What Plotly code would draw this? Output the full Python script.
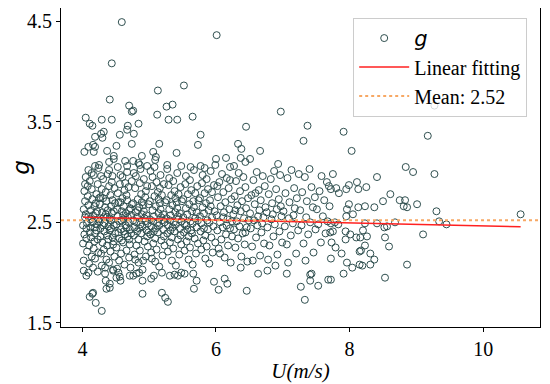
import plotly.graph_objects as go

# ---- data: (U [m/s], g) pairs, grouped by wind-speed band ----
obs_u40_425 = [
    (4.01, 2.47), (4.02, 2.63), (4.01, 2.29), (4.03, 2.81), (4.02, 2.12), (4.04, 2.55), (4.03, 2.38), (4.05, 2.95),
    (4.04, 2.71), (4.02, 2.02), (4.06, 2.44), (4.07, 2.21), (4.05, 2.58), (4.08, 2.86), (4.06, 2.34), (4.09, 2.67),
    (4.07, 2.49), (4.10, 2.09), (4.08, 2.76), (4.11, 2.40), (4.09, 3.02), (4.12, 2.53), (4.10, 2.27), (4.13, 2.62),
    (4.11, 2.91), (4.14, 2.16), (4.12, 2.45), (4.15, 2.73), (4.13, 2.35), (4.16, 2.57), (4.14, 2.83), (4.17, 2.24),
    (4.15, 2.50), (4.18, 2.66), (4.16, 2.05), (4.19, 2.39), (4.17, 2.97), (4.20, 2.59), (4.18, 2.31), (4.21, 2.78),
    (4.19, 2.14), (4.22, 2.48), (4.20, 2.69), (4.23, 2.88), (4.21, 2.42), (4.24, 2.20), (4.22, 2.61), (4.24, 2.53),
    (4.23, 2.33), (4.25, 2.74), (4.04, 2.88), (4.09, 2.56), (4.14, 2.99), (4.19, 2.45), (4.24, 3.04),
]
obs_u425_45 = [
    (4.26, 2.51), (4.27, 2.36), (4.26, 2.68), (4.28, 2.19), (4.29, 2.83), (4.27, 2.44), (4.30, 2.60), (4.29, 2.07),
    (4.31, 2.74), (4.30, 2.30), (4.32, 2.55), (4.31, 2.93), (4.33, 2.41), (4.34, 2.65), (4.32, 2.23), (4.35, 2.80),
    (4.33, 2.49), (4.36, 2.13), (4.35, 2.58), (4.37, 2.37), (4.36, 2.71), (4.38, 2.98), (4.37, 2.27), (4.39, 2.46),
    (4.38, 2.62), (4.40, 2.86), (4.39, 2.33), (4.41, 2.54), (4.40, 2.10), (4.42, 2.77), (4.41, 2.42), (4.43, 2.66),
    (4.42, 2.21), (4.44, 2.90), (4.43, 2.52), (4.45, 2.35), (4.44, 2.59), (4.46, 2.03), (4.45, 2.72), (4.47, 2.47),
    (4.46, 2.28), (4.48, 2.84), (4.47, 2.61), (4.49, 2.39), (4.48, 2.16), (4.49, 2.69), (4.28, 2.96), (4.34, 2.05),
    (4.40, 3.02), (4.45, 2.96), (4.31, 2.47), (4.37, 2.55), (4.43, 2.44), (4.27, 2.75), (4.47, 2.31),
]
obs_u45_475 = [
    (4.51, 2.48), (4.52, 2.63), (4.51, 2.25), (4.53, 2.79), (4.54, 2.40), (4.53, 2.56), (4.55, 2.12), (4.56, 2.88),
    (4.55, 2.34), (4.57, 2.70), (4.56, 2.51), (4.58, 2.19), (4.59, 2.61), (4.58, 2.43), (4.60, 2.95), (4.61, 2.30),
    (4.60, 2.74), (4.62, 2.53), (4.63, 2.08), (4.62, 2.66), (4.64, 2.38), (4.63, 2.82), (4.65, 2.47), (4.66, 2.22),
    (4.65, 2.59), (4.67, 3.00), (4.68, 2.36), (4.67, 2.72), (4.69, 2.50), (4.70, 2.15), (4.69, 2.85), (4.71, 2.43),
    (4.72, 2.64), (4.71, 2.28), (4.73, 2.57), (4.74, 2.91), (4.73, 2.39), (4.74, 2.68), (4.52, 2.04), (4.57, 2.97),
    (4.61, 2.57), (4.66, 2.45), (4.70, 2.62), (4.54, 2.70), (4.59, 2.32), (4.64, 2.89), (4.68, 2.55), (4.72, 2.05),
    (4.58, 2.52), (4.62, 2.41), (4.66, 2.77), (4.70, 2.33),
]
obs_u475_50 = [
    (4.76, 2.52), (4.77, 2.37), (4.76, 2.69), (4.78, 2.18), (4.79, 2.84), (4.78, 2.45), (4.80, 2.60), (4.81, 2.27),
    (4.80, 2.96), (4.82, 2.41), (4.83, 2.73), (4.82, 2.55), (4.84, 2.10), (4.85, 2.65), (4.84, 2.33), (4.86, 2.89),
    (4.87, 2.48), (4.86, 2.22), (4.88, 2.78), (4.89, 2.58), (4.88, 2.39), (4.90, 2.03), (4.91, 2.67), (4.90, 2.46),
    (4.92, 2.93), (4.93, 2.31), (4.92, 2.61), (4.94, 2.51), (4.95, 2.16), (4.94, 2.75), (4.96, 2.42), (4.97, 2.86),
    (4.96, 2.57), (4.98, 2.26), (4.99, 2.68), (4.98, 2.49), (4.77, 2.99), (4.81, 2.50), (4.85, 2.44), (4.89, 2.70),
    (4.93, 2.54), (4.97, 2.36), (4.79, 2.13), (4.83, 2.62), (4.87, 3.03), (4.91, 2.12), (4.95, 2.81), (4.99, 2.40),
]
obs_u50_55 = [
    (5.01, 2.53), (5.02, 2.38), (5.01, 2.71), (5.03, 2.20), (5.04, 2.86), (5.03, 2.46), (5.05, 2.62), (5.06, 2.29),
    (5.05, 2.95), (5.07, 2.41), (5.08, 2.76), (5.07, 2.56), (5.09, 2.11), (5.10, 2.66), (5.09, 2.34), (5.11, 2.90),
    (5.12, 2.49), (5.11, 2.23), (5.13, 2.80), (5.14, 2.59), (5.13, 2.40), (5.15, 2.06), (5.16, 2.69), (5.15, 2.47),
    (5.17, 2.97), (5.18, 2.32), (5.17, 2.63), (5.19, 2.52), (5.20, 2.17), (5.19, 2.77), (5.21, 2.43), (5.22, 2.88),
    (5.21, 2.58), (5.23, 2.27), (5.24, 2.70), (5.23, 2.50), (5.02, 3.01), (5.06, 2.51), (5.10, 2.44), (5.14, 2.73),
    (5.18, 2.55), (5.22, 2.36), (5.04, 2.14), (5.16, 2.84),
    (5.26, 2.54), (5.27, 2.39), (5.26, 2.72), (5.28, 2.21), (5.29, 2.87), (5.28, 2.47), (5.30, 2.63), (5.31, 2.30),
    (5.30, 2.94), (5.32, 2.42), (5.33, 2.77), (5.32, 2.57), (5.34, 2.12), (5.35, 2.67), (5.34, 2.35), (5.36, 2.91),
    (5.37, 2.50), (5.36, 2.24), (5.38, 2.81), (5.39, 2.60), (5.38, 2.41), (5.40, 2.07), (5.41, 2.70), (5.40, 2.48),
    (5.42, 2.99), (5.43, 2.33), (5.42, 2.64), (5.44, 2.53), (5.45, 2.18), (5.44, 2.78), (5.46, 2.44), (5.47, 2.85),
    (5.46, 2.59), (5.48, 2.28), (5.49, 2.71), (5.48, 2.51), (5.27, 3.03), (5.31, 2.52), (5.35, 2.45), (5.39, 2.74),
    (5.43, 2.56), (5.47, 2.37),
]
obs_u55_60 = [
    (5.51, 2.55), (5.52, 2.40), (5.51, 2.73), (5.53, 2.22), (5.54, 2.88), (5.53, 2.48), (5.55, 2.64), (5.56, 2.31),
    (5.55, 2.96), (5.57, 2.43), (5.58, 2.78), (5.57, 2.58), (5.59, 2.13), (5.60, 2.68), (5.59, 2.36), (5.61, 2.92),
    (5.62, 2.51), (5.61, 2.25), (5.63, 2.82), (5.64, 2.61), (5.63, 2.42), (5.65, 2.08), (5.66, 2.71), (5.65, 2.49),
    (5.67, 3.02), (5.68, 2.34), (5.67, 2.65), (5.69, 2.54), (5.70, 2.19), (5.69, 2.79), (5.71, 2.45), (5.72, 2.86),
    (5.71, 2.60), (5.73, 2.29), (5.74, 2.72), (5.73, 2.52), (5.56, 2.47), (5.64, 2.39),
    (5.76, 2.56), (5.77, 2.41), (5.76, 2.74), (5.78, 2.23), (5.79, 2.89), (5.78, 2.49), (5.80, 2.65), (5.81, 2.32),
    (5.80, 2.97), (5.82, 2.44), (5.83, 2.79), (5.82, 2.59), (5.84, 2.14), (5.85, 2.69), (5.84, 2.37), (5.86, 2.93),
    (5.87, 2.52), (5.86, 2.26), (5.88, 2.83), (5.89, 2.62), (5.88, 2.43), (5.90, 2.09), (5.91, 2.72), (5.90, 2.50),
    (5.92, 3.01), (5.93, 2.35), (5.92, 2.66), (5.94, 2.55), (5.95, 2.20), (5.94, 2.80), (5.96, 2.46), (5.97, 2.87),
    (5.98, 2.61), (5.99, 2.30),
]
obs_u60_70 = [
    (6.01, 2.57), (6.02, 2.42), (6.03, 2.75), (6.04, 2.24), (6.05, 2.90), (6.06, 2.50), (6.07, 2.66), (6.08, 2.33),
    (6.09, 2.98), (6.10, 2.45), (6.11, 2.80), (6.12, 2.60), (6.13, 2.15), (6.14, 2.70), (6.15, 2.38), (6.16, 2.94),
    (6.17, 2.53), (6.18, 2.27), (6.19, 2.84), (6.20, 2.63), (6.21, 2.44), (6.22, 2.10), (6.23, 2.73), (6.24, 2.51),
    (6.02, 2.86), (6.06, 2.19), (6.11, 2.55), (6.16, 2.47), (6.21, 2.92), (6.24, 2.36),
    (6.26, 2.58), (6.27, 2.43), (6.28, 2.76), (6.29, 2.25), (6.30, 2.91), (6.31, 2.51), (6.32, 2.67), (6.33, 2.34),
    (6.34, 2.99), (6.35, 2.46), (6.36, 2.81), (6.37, 2.61), (6.38, 2.16), (6.39, 2.71), (6.40, 2.39), (6.41, 2.95),
    (6.42, 2.54), (6.43, 2.28), (6.44, 2.85), (6.45, 2.64), (6.46, 2.45), (6.47, 2.11), (6.48, 2.74), (6.49, 2.52),
    (6.29, 2.62), (6.37, 2.05), (6.44, 2.40),
    (6.51, 2.59), (6.52, 2.44), (6.53, 2.77), (6.54, 2.26), (6.56, 2.92), (6.57, 2.52), (6.58, 2.68), (6.60, 2.35),
    (6.61, 3.00), (6.62, 2.47), (6.64, 2.82), (6.65, 2.62), (6.66, 2.17), (6.67, 2.72), (6.68, 2.40), (6.70, 2.96),
    (6.71, 2.55), (6.72, 2.29), (6.73, 2.86), (6.74, 2.65), (6.55, 2.12), (6.63, 2.56), (6.69, 2.49), (6.59, 2.79),
    (6.76, 2.60), (6.77, 2.45), (6.79, 2.78), (6.80, 2.27), (6.82, 2.93), (6.83, 2.53), (6.84, 2.69), (6.86, 2.36),
    (6.87, 3.01), (6.88, 2.48), (6.90, 2.83), (6.91, 2.63), (6.92, 2.18), (6.94, 2.73), (6.95, 2.41), (6.96, 2.97),
    (6.98, 2.56), (6.99, 2.30), (6.78, 2.13), (6.85, 2.58), (6.89, 2.07), (6.97, 2.66),
]
obs_u70_77 = [
    (7.01, 2.61), (7.03, 2.46), (7.04, 2.79), (7.06, 2.28), (7.07, 2.94), (7.09, 2.54), (7.10, 2.70), (7.12, 2.37),
    (7.13, 3.02), (7.15, 2.49), (7.17, 2.84), (7.18, 2.64), (7.20, 2.19), (7.21, 2.74), (7.23, 2.42), (7.24, 2.98),
    (7.08, 2.10), (7.16, 2.57),
    (7.26, 2.62), (7.28, 2.47), (7.29, 2.80), (7.31, 2.29), (7.33, 2.95), (7.35, 2.55), (7.36, 2.71), (7.38, 2.38),
    (7.40, 3.03), (7.41, 2.50), (7.43, 2.85), (7.45, 2.65), (7.46, 2.20), (7.48, 2.75), (7.49, 2.43), (7.34, 2.12),
    (7.51, 2.63), (7.53, 2.48), (7.55, 2.81), (7.57, 2.30), (7.58, 2.96), (7.60, 2.56), (7.62, 2.72), (7.64, 2.39),
    (7.66, 2.90), (7.67, 2.51), (7.69, 2.86), (7.70, 2.66),
]
obs_high = [
    (4.59, 4.49), (6.01, 4.36), (4.44, 4.08), (5.52, 3.86), (5.13, 3.81), (4.41, 3.72), (4.70, 3.66), (4.74, 3.60),
    (4.76, 3.61), (5.26, 3.65), (5.35, 3.67), (5.12, 3.57), (5.65, 3.55), (4.05, 3.54), (4.11, 3.48), (4.15, 3.46),
    (4.29, 3.52), (4.44, 3.52), (5.29, 3.52), (5.42, 3.52), (4.68, 3.46), (4.67, 3.42), (4.84, 3.48), (4.32, 3.40),
    (4.28, 3.38), (4.77, 3.38), (4.56, 3.37), (5.77, 3.37), (4.19, 3.35), (4.30, 3.34), (4.16, 3.27), (4.19, 3.25),
    (4.09, 3.25), (4.03, 3.20), (4.17, 3.20), (4.51, 3.26), (4.74, 3.28), (5.15, 3.28), (5.73, 3.27), (4.37, 3.21),
    (5.06, 3.20), (5.10, 3.15), (5.09, 3.12), (5.41, 3.19), (4.47, 3.16), (4.47, 3.13), (4.40, 3.10), (4.89, 3.16),
    (4.64, 3.11), (4.76, 3.11), (4.84, 3.09), (4.19, 3.06), (4.25, 3.07), (4.53, 3.05), (4.67, 3.06), (4.86, 3.07),
    (4.97, 3.06), (5.08, 3.05), (5.27, 3.07), (5.48, 3.06), (5.62, 3.05), (5.77, 3.06),
    (6.97, 3.60), (7.37, 3.46), (6.45, 3.45), (7.31, 3.31), (6.33, 3.28), (6.38, 3.23), (6.66, 3.21), (6.00, 3.13),
    (6.15, 3.14), (6.37, 3.14), (6.51, 3.13), (6.44, 3.10), (5.99, 3.07), (6.21, 3.05), (6.27, 3.06), (5.83, 3.04),
    (6.93, 3.08),
]
obs_low = [
    (4.29, 1.62), (4.20, 1.70), (4.11, 1.76), (4.15, 1.79), (4.16, 1.80), (4.90, 1.79), (5.19, 1.80), (5.24, 1.75),
    (5.28, 1.71), (4.36, 1.84), (4.41, 1.85), (4.35, 1.92), (4.41, 1.89), (5.67, 1.84), (5.71, 1.92), (4.57, 1.92),
    (4.51, 1.95), (5.03, 1.94), (5.07, 1.97), (4.90, 1.92), (4.06, 1.97), (4.09, 2.00), (4.23, 2.01), (4.34, 1.99),
    (4.71, 1.97), (4.76, 1.97), (4.81, 1.99), (4.85, 2.00), (5.19, 2.00), (5.31, 1.97), (5.38, 1.98), (5.43, 1.97),
    (5.48, 2.00), (5.53, 1.99), (5.66, 1.99), (4.46, 2.02), (4.54, 2.00), (4.56, 1.96),
    (7.33, 1.73), (6.46, 1.82), (6.04, 1.83), (6.17, 1.89), (6.13, 1.94), (5.97, 1.91), (6.63, 1.99), (6.77, 2.02),
    (7.06, 1.99), (7.27, 1.86), (7.41, 1.92), (7.53, 1.87), (7.43, 1.99), (7.41, 1.98), (7.68, 1.93),
]
obs_u_above_77 = [
    (7.91, 3.40), (9.17, 3.36), (8.03, 3.21), (8.84, 3.05), (8.95, 3.00), (9.27, 2.98), (7.75, 2.98), (8.41, 2.95),
    (8.11, 2.90), (7.99, 2.87), (7.95, 2.83), (8.13, 2.83), (8.25, 2.85), (7.84, 2.79), (7.80, 2.84), (7.72, 2.83),
    (8.61, 2.78), (8.50, 2.71), (8.75, 2.72), (8.83, 2.72), (9.01, 2.68), (7.99, 2.68), (8.13, 2.65), (8.23, 2.66),
    (8.37, 2.65), (8.81, 2.66), (8.86, 2.65), (9.30, 2.61), (10.56, 2.58), (7.96, 2.63), (7.95, 2.56), (8.05, 2.58),
    (9.34, 2.51), (9.45, 2.48), (9.10, 2.38), (8.68, 2.50), (8.41, 2.49), (8.52, 2.45), (8.56, 2.46), (8.23, 2.49),
    (8.20, 2.42), (8.26, 2.36), (8.16, 2.35), (8.10, 2.35), (7.94, 2.41), (8.01, 2.38), (7.94, 2.33), (7.78, 2.50),
    (7.83, 2.48), (7.75, 2.41), (7.71, 2.40), (7.72, 2.49), (8.53, 2.35), (8.59, 2.26), (8.23, 2.27), (8.15, 2.21),
    (8.17, 2.22), (8.31, 2.19), (8.37, 2.13), (8.31, 2.08), (8.19, 2.07), (8.15, 2.08), (7.96, 2.10), (8.04, 2.05),
    (7.91, 1.99), (7.88, 2.19), (7.79, 2.25), (7.73, 2.30), (7.72, 2.14), (7.72, 1.93), (8.53, 1.95), (8.86, 2.08),
    (9.27, 3.66),
]

fit_slope = -0.0145      # linear fitting of g vs U
fit_intercept = 2.610
mean_g = 2.52

x_ticks = [4, 6, 8, 10]
y_ticks = [1.5, 2.5, 3.5, 4.5]
x_range = [3.68, 10.85]
y_range = [1.46, 4.63]

# ---- build ----
all_obs = (obs_u40_425 + obs_u425_45 + obs_u45_475 + obs_u475_50 + obs_u50_55 + obs_u55_60
           + obs_u60_70 + obs_u70_77 + obs_high + obs_low + obs_u_above_77)
u = [p[0] for p in all_obs]
g = [p[1] for p in all_obs]

x_fit = [min(u), max(u)]
y_fit = [fit_intercept + fit_slope * x for x in x_fit]

serif = "Liberation Serif"

fig = go.Figure()
fig.add_trace(go.Scatter(
    x=u, y=g, mode="markers",
    name='<span style="font-family:DejaVu Sans;font-size:21px"><i>g</i></span>',
    marker=dict(symbol="circle-open", size=7, color="#2F4F4F", line=dict(width=1)),
))
fig.add_trace(go.Scatter(
    x=x_fit, y=y_fit, mode="lines", name="Linear fitting",
    line=dict(color="#FF2020", width=1.5),
))
fig.add_trace(go.Scatter(
    x=x_range, y=[mean_g, mean_g], mode="lines", name=f"Mean: {mean_g:.2f}",
    line=dict(color="#F7A864", width=2, dash="dot"),
))

axis_common = dict(
    showline=True, mirror=True, linecolor="black", linewidth=1.2,
    ticks="outside", ticklen=4, tickwidth=1, tickcolor="black",
    showgrid=False, zeroline=False, automargin=False,
    tickfont=dict(family=serif, size=20, color="black"),
)
fig.update_xaxes(range=x_range, tickvals=x_ticks, **axis_common,
                 title=dict(text="<i>U(m/s)</i>", font=dict(family=serif, size=21, color="black"), standoff=4))
fig.update_yaxes(range=y_range, tickvals=y_ticks, ticktext=[f"{t:.1f}" for t in y_ticks], **axis_common,
                 title=dict(text="<i>g</i>", font=dict(family="DejaVu Sans", size=23, color="black"), standoff=20))

# the page body adds an 8 px offset, so the figure is sized to fit the 550x384 window
fig.update_layout(
    width=542, height=376,
    margin=dict(l=53, r=10, t=0, b=57),
    plot_bgcolor="white", paper_bgcolor="white",
    font=dict(family=serif, size=20, color="black"),
    legend=dict(x=0.61, y=0.97, xanchor="left", yanchor="top", itemwidth=50,
                bgcolor="rgba(255,255,255,0.8)", bordercolor="#CCCCCC", borderwidth=1,
                font=dict(family=serif, size=20, color="black")),
)

fig.write_html("out.html")
